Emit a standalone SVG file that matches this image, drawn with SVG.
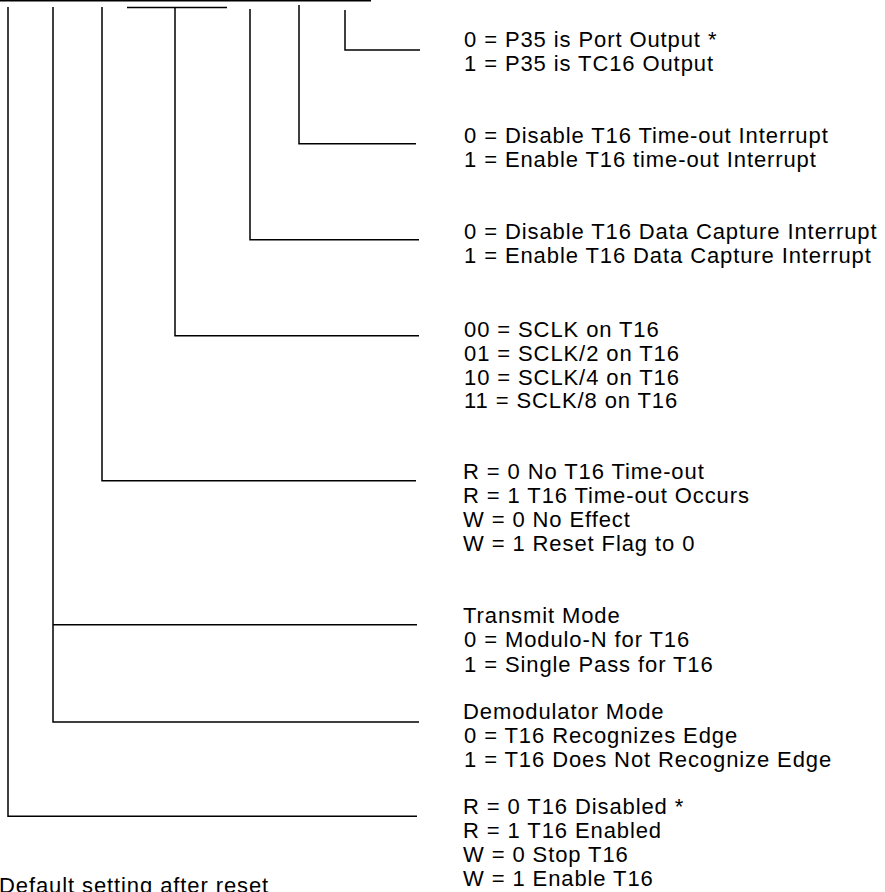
<svg xmlns="http://www.w3.org/2000/svg" width="885" height="892" viewBox="0 0 885 892">
  <style>
    .ln { fill: none; stroke: #000; stroke-width: 1.5; stroke-linecap: butt; stroke-linejoin: miter; }
    .t { font-family: "Liberation Sans", Arial, Helvetica, sans-serif; font-size: 22px; letter-spacing: 0.9px; fill: #000; }
  </style>
  <rect x="0" y="0" width="885" height="892" fill="#fff"/>
  <g id="register">
    <line class="ln" x1="0" y1="0.75" x2="371" y2="0.75"/>
    <line class="ln" x1="127" y1="7.5" x2="227" y2="7.5"/>
  </g>
  <g id="connectors">
    <polyline class="ln" points="345,10 345,50 420,50"/>
    <polyline class="ln" points="299,5 299,143.7 416,143.7"/>
    <polyline class="ln" points="250,9 250,239.7 419,239.7"/>
    <polyline class="ln" points="175,7.5 175,335.7 419,335.7"/>
    <polyline class="ln" points="102,7 102,480.7 416,480.7"/>
    <polyline class="ln" points="53,7 53,722 419,722"/>
    <line class="ln" x1="53" y1="624.7" x2="417" y2="624.7"/>
    <polyline class="ln" points="8,7 8,816.3 417,816.3"/>
  </g>
  <g id="bit-p35">
    <text class="t" x="464" y="46.7">0 = P35 is Port Output *</text>
    <text class="t" x="464" y="70.5">1 = P35 is TC16 Output</text>
  </g>
  <g id="bit-timeout-int">
    <text class="t" x="464" y="142.7">0 = Disable T16 Time-out Interrupt</text>
    <text class="t" x="464" y="166.7">1 = Enable T16 time-out Interrupt</text>
  </g>
  <g id="bit-capture-int">
    <text class="t" x="464" y="239.3">0 = Disable T16 Data Capture Interrupt</text>
    <text class="t" x="464" y="263.3">1 = Enable T16 Data Capture Interrupt</text>
  </g>
  <g id="bit-sclk">
    <text class="t" x="464" y="336.7">00 = SCLK on T16</text>
    <text class="t" x="464" y="360.7">01 = SCLK/2 on T16</text>
    <text class="t" x="464" y="384.5">10 = SCLK/4 on T16</text>
    <text class="t" x="464" y="408.3">11 = SCLK/8 on T16</text>
  </g>
  <g id="bit-timeout-flag">
    <text class="t" x="463" y="479.3">R = 0 No T16 Time-out</text>
    <text class="t" x="463" y="503.3">R = 1 T16 Time-out Occurs</text>
    <text class="t" x="463" y="527.3">W = 0 No Effect</text>
    <text class="t" x="463" y="551.3">W = 1 Reset Flag to 0</text>
  </g>
  <g id="bit-transmit">
    <text class="t" x="463" y="623.3">Transmit Mode</text>
    <text class="t" x="464" y="647.3">0 = Modulo-N for T16</text>
    <text class="t" x="464" y="671.5">1 = Single Pass for T16</text>
  </g>
  <g id="bit-demod">
    <text class="t" x="463" y="719.3">Demodulator Mode</text>
    <text class="t" x="464" y="743.3">0 = T16 Recognizes Edge</text>
    <text class="t" x="464" y="767">1 = T16 Does Not Recognize Edge</text>
  </g>
  <g id="bit-enable">
    <text class="t" x="463" y="814">R = 0 T16 Disabled *</text>
    <text class="t" x="463" y="838">R = 1 T16 Enabled</text>
    <text class="t" x="463" y="862">W = 0 Stop T16</text>
    <text class="t" x="463" y="886">W = 1 Enable T16</text>
  </g>
  <g id="footnote">
    <text class="t" x="-1" y="892.5">Default setting after reset</text>
  </g>
</svg>
